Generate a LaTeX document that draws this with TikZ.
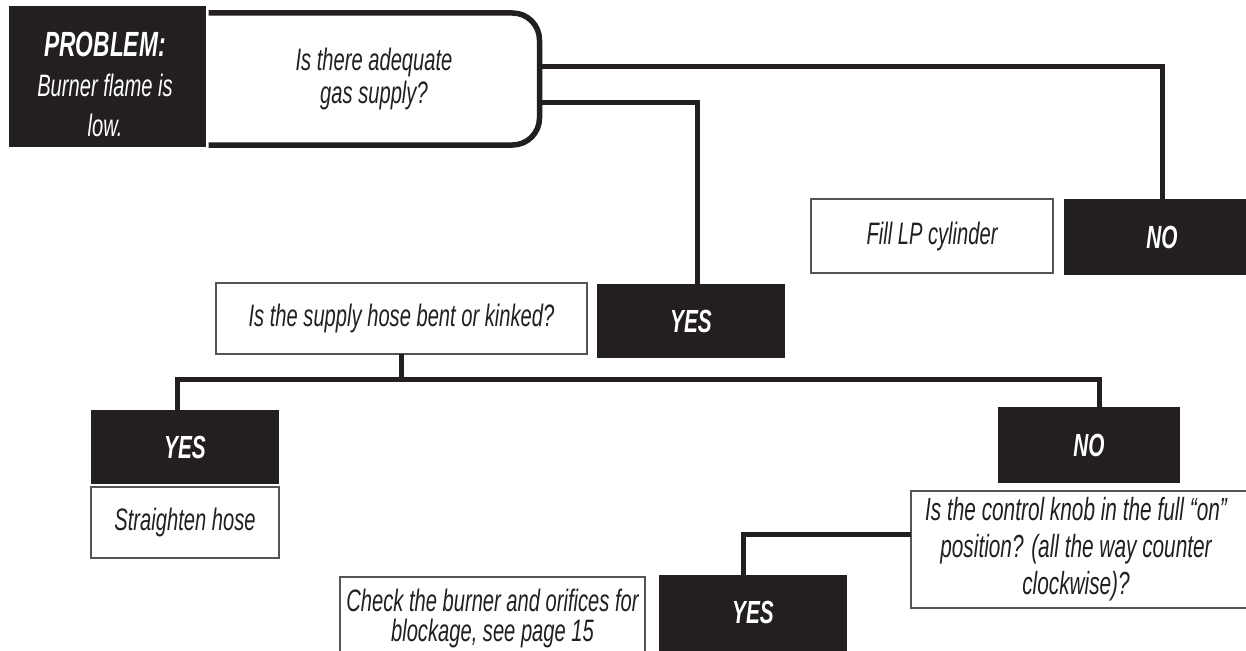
\documentclass[tikz,border=0pt]{standalone}
\usepackage{fontspec}
\newfontfamily\diagfont{Liberation Sans}[FakeStretch=0.65]
\definecolor{ink}{HTML}{231F20}
\definecolor{edgegray}{HTML}{555555}
\begin{document}
\begin{tikzpicture}[x=1pt,y=-1pt,
  blk/.style={fill=ink, text=white, inner sep=0pt, outer sep=0pt,
    font=\diagfont\bfseries\itshape\fontsize{32}{36}\selectfont},
  wbox/.style={draw=edgegray, line width=1.5pt, fill=white, text=ink,
    inner sep=0pt, outer sep=0pt, align=center,
    font=\diagfont\itshape\fontsize{31}{33}\selectfont},
  plain/.style={inner sep=0pt, outer sep=0pt, align=center, text=ink,
    font=\diagfont\itshape\fontsize{31}{33}\selectfont},
  qborder/.style={draw=ink, line width=5.5pt, rounded corners=27pt},
  conn/.style={draw=ink, line width=5pt},
]
\useasboundingbox (0,0) rectangle (1246,650);
\fill[white] (0,0) rectangle (1246,650);

% top question
\node[plain, minimum width=331pt, minimum height=132pt] (qone) at (374,79)
  {Is there adequate\\gas supply?};
\draw[qborder] (qone.north west) -- (qone.north east) -- (qone.south east) -- (qone.south west);
\node[blk, minimum width=197pt, minimum height=141pt] (prob) at (107.5,76.5) {};
\node[inner sep=0pt, text=white, align=center,
  font=\diagfont\itshape\fontsize{31}{40}\selectfont] (probtxt) at (105,84)
  {{\bfseries\fontsize{35}{40}\selectfont PROBLEM:}\\Burner flame is\\low.};

% first answers
\node[blk, minimum width=196pt, minimum height=76pt] (noA) at (1162,237) {NO};
\node[wbox, minimum width=242pt, minimum height=74pt] (fill) at (932,236) {Fill LP cylinder};
\node[blk, minimum width=188pt, minimum height=74pt] (yesA) at (691,321) {YES};

\draw[conn] (qone.east |- 0,67) -| (noA.north);
\draw[conn] (qone.east |- 0,103) -| ([xshift=6pt]yesA.north);

% supply hose question
\node[wbox, minimum width=371pt, minimum height=71pt] (supply) at (401.5,318.5)
  {Is the supply hose bent or kinked?};
\coordinate (hub) at (supply.south |- 0,379);

\node[blk, minimum width=188pt, minimum height=74pt] (yesB) at (185,447) {YES};
\node[wbox, minimum width=188pt, minimum height=71pt] (straight) at (185,522.5) {Straighten hose};
\node[blk, minimum width=182pt, minimum height=76pt] (noB) at (1089,445) {\raisebox{-6pt}{NO}};

\draw[conn] (supply.south) -- (hub);
\draw[conn] ([xshift=-8pt]yesB.north) |- (hub) -| ([xshift=10pt]noB.north);

% control knob question
\node[plain, minimum width=330pt, minimum height=117pt,
  font=\diagfont\itshape\fontsize{32}{37}\selectfont] (knob) at (1076,549.5)
  {Is the control knob in the full “on”\\position? (all the way counter\\clockwise)?};
\draw[draw=edgegray, line width=1.5pt] ([xshift=30pt]knob.north east) -- (knob.north west)
  -- (knob.south west) -- ([xshift=30pt]knob.south east);

\node[blk, minimum width=188pt, minimum height=85pt] (yesC) at (753,617.5) {\raisebox{10pt}{YES}};
\node[wbox, minimum width=305pt, minimum height=83pt,
  font=\diagfont\itshape\fontsize{31}{30}\selectfont] (check) at (492.5,618.5)
  {Check the burner and orifices for\\blockage, see page 15};

\draw[conn] (knob.west |- 0,534) -| ([xshift=-10pt]yesC.north);
\end{tikzpicture}
\end{document}
